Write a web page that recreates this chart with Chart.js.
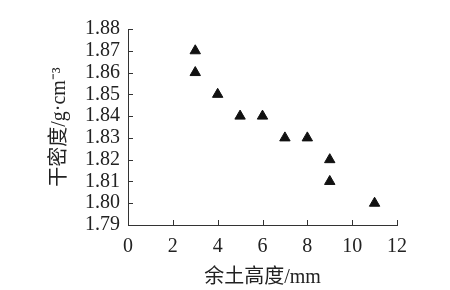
<!DOCTYPE html>
<html>
<head>
<meta charset="utf-8">
<script src="https://cdn.jsdelivr.net/npm/chart.js@4/dist/chart.umd.min.js"></script>
<style>
  html, body { margin: 0; padding: 0; background: #fff; }
  #box { width: 450px; height: 290px; }
</style>
</head>
<body>
<div id="box"><canvas id="grafico"></canvas></div>
<script>
// 余土高度 (mm) vs 干密度 (g/cm3)
var alturas = [3, 3, 4, 5, 6, 7, 8, 9, 9, 11];
var densidades = [1.87, 1.86, 1.85, 1.84, 1.84, 1.83, 1.83, 1.82, 1.81, 1.80];
var xTitulo = "余土高度/mm";
var yTitulo = "干密度/g·cm⁻³";

var pontos = [];
for (var i = 0; i < alturas.length; i++) {
    pontos[i] = { x: alturas[i], y: densidades[i] };
}

var fonte = "'Liberation Serif', 'Noto Sans CJK SC', serif";

// ticks pointing into the plot
var ticksInternos = {
    id: "ticksInternos",
    afterDraw: function (chart) {
        var ctx = chart.ctx;
        var area = chart.chartArea;
        var sx = chart.scales.x, sy = chart.scales.y;
        ctx.save();
        ctx.strokeStyle = "#333";
        ctx.lineWidth = 1;
        ctx.beginPath();
        sx.ticks.forEach(function (t) {
            var px = Math.round(sx.getPixelForValue(t.value)) + 0.5;
            ctx.moveTo(px, area.bottom);
            ctx.lineTo(px, area.bottom - 5);
        });
        sy.ticks.forEach(function (t) {
            var py = Math.round(sy.getPixelForValue(t.value)) + 0.5;
            ctx.moveTo(area.left, py);
            ctx.lineTo(area.left + 5, py);
        });
        ctx.stroke();
        ctx.restore();
    }
};

var grafico = new Chart(document.querySelector("#grafico").getContext("2d"), {
    type: "scatter",
    data: {
        datasets: [{
            data: pontos,
            pointStyle: "triangle",
            pointRadius: 6,
            backgroundColor: "#111",
            borderColor: "#111",
            borderWidth: 1
        }]
    },
    options: {
        responsive: true,
        maintainAspectRatio: false,
        animation: false,
        layout: { padding: { top: 29, right: 53 } },
        plugins: { legend: { display: false }, tooltip: { enabled: false } },
        scales: {
            x: {
                type: "linear",
                min: 0, max: 12,
                grid: { display: false, drawTicks: false },
                border: { color: "#333", width: 1 },
                ticks: { stepSize: 2, padding: 10, color: "#222", font: { family: fonte, size: 20 } },
                title: { display: true, text: xTitulo, color: "#222", font: { family: fonte, size: 20 }, padding: 0 },
                afterFit: function (s) { s.height = 65; }
            },
            y: {
                min: 1.79, max: 1.88,
                grid: { display: false, drawTicks: false },
                border: { color: "#333", width: 1 },
                ticks: {
                    stepSize: 0.01, padding: 8, autoSkip: false, color: "#222", font: { family: fonte, size: 20 },
                    callback: function (v) { return v.toFixed(2); }
                },
                title: { display: true, text: yTitulo, color: "#222", font: { family: fonte, size: 20 }, padding: { top: 48, bottom: 0 } },
                afterFit: function (s) { s.width = 128; }
            }
        }
    },
    plugins: [ticksInternos]
});
</script>
</body>
</html>
